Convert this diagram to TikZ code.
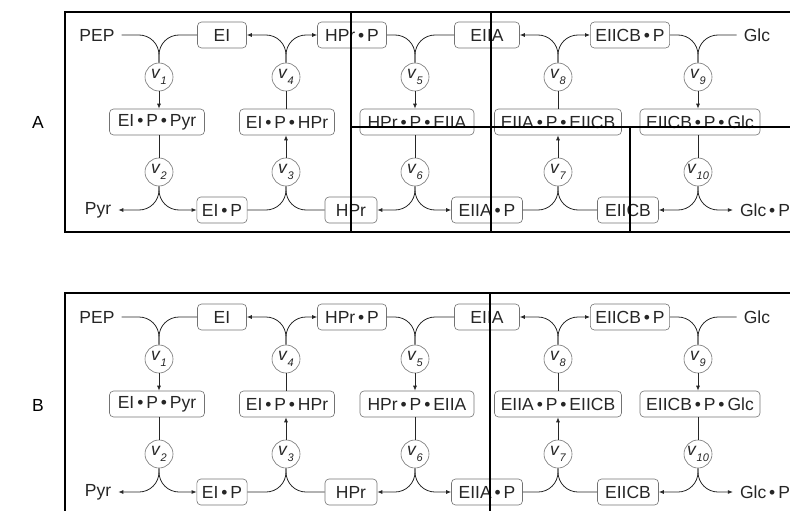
\documentclass[tikz,border=0pt]{standalone}
\usepackage{fontspec}
\setmainfont{Liberation Sans}
\usetikzlibrary{arrows.meta}

\newcommand{\bdot}{\,\textbullet\,}
\newcommand{\vrate}[1]{\textit{v}\raisebox{-.6ex}{\fontsize{11}{11}\selectfont\itshape #1}}

\tikzset{
  species/.style = {draw = black!55, rounded corners = 4pt, inner xsep = 5pt,
    minimum height = 26pt, line width = .6pt, text = black!85},
  metab/.style = {inner xsep = 7pt, inner ysep = 2pt, text = black!85},
  rate/.style = {draw = black!55, circle, minimum size = 28pt, inner sep = 0pt,
    line width = .6pt, text = black!85},
  flux/.style = {line width = .8pt, black!85, rounded corners = 20pt},
  frame/.style = {line width = 2.4pt, line cap = rect, line join = miter}
}

\begin{document}
\begin{tikzpicture}[x = 1pt, y = 1pt, font = \fontsize{17.5}{20}\selectfont,
  >={Latex[length = 5pt, width = 4pt]}]
  \useasboundingbox (0, 0) rectangle (790, -511);

  \node (labA) at (38, -122) {A};
  \node (labB) at (38, -405) {B};

  \foreach \p/\dy in {A/0, B/-282} {
    \begin{scope}[yshift = \dy]
      % top row
      \node[metab] (\p-pep) at (97, -35) {PEP};
      \node[species, minimum width = 49] (\p-ei) at (222, -35) {EI};
      \node[species, minimum width = 69] (\p-hprp) at (352, -35) {HPr\bdot P};
      \node[species, minimum width = 65] (\p-eiia) at (487, -35) {EIIA};
      \node[species, minimum width = 77] (\p-eiicbp) at (630, -35) {EIICB\bdot P};
      \node[metab] (\p-glc) at (757, -35) {Glc};
      % middle row
      \node[species, minimum width = 95] (\p-eipyr) at (157, -122) {EI\bdot P\bdot Pyr};
      \node[species, minimum width = 95] (\p-eihpr) at (287, -122) {EI\bdot P\bdot HPr};
      \node[species, minimum width = 114] (\p-hpreiia) at (417, -122) {HPr\bdot P\bdot EIIA};
      \node[species, minimum width = 127] (\p-eiiaeiicb) at (558, -122) {EIIA\bdot P\bdot EIICB};
      \node[species, minimum width = 120] (\p-eiicbglc) at (700, -122) {EIICB\bdot P\bdot Glc};
      % bottom row
      \node[metab] (\p-pyr) at (98, -210) {Pyr};
      \node[species, minimum width = 49] (\p-eip) at (222, -210) {EI\bdot P};
      \node[species, minimum width = 52] (\p-hpr) at (351, -210) {HPr};
      \node[species, minimum width = 71] (\p-eiiap) at (487, -210) {EIIA\bdot P};
      \node[species, minimum width = 61] (\p-eiicb) at (628, -210) {EIICB};
      \node[metab] (\p-glcp) at (765, -210) {Glc\bdot P};
      % rates
      \foreach \i/\x/\y in {1/159/-77, 2/159/-172, 3/286/-172, 4/286/-77,
        5/415/-77, 6/415/-172, 7/558/-172, 8/558/-77, 9/698/-77, 10/698/-172}
        \node[rate] (\p-v\i) at (\x, \y) {\vrate{\i}};

      % v1, v2
      \draw[flux] (\p-pep.east) -| (\p-v1.north);
      \draw[flux] (\p-ei.west) -| (\p-v1.north);
      \draw[flux, ->] (\p-v1.south) -- (\p-v1 |- \p-eipyr.north);
      \draw[flux] (\p-v2 |- \p-eipyr.south) -- (\p-v2.north);
      \draw[flux, ->] (\p-v2.south) |- (\p-pyr.east);
      \draw[flux, ->] (\p-v2.south) |- (\p-eip.west);
      % v3, v4
      \draw[flux] (\p-eip.east) -| (\p-v3.south);
      \draw[flux] (\p-hpr.west) -| (\p-v3.south);
      \draw[flux, ->] (\p-v3.north) -- (\p-v3 |- \p-eihpr.south);
      \draw[flux] (\p-v4 |- \p-eihpr.north) -- (\p-v4.south);
      \draw[flux, ->] (\p-v4.north) |- (\p-ei.east);
      \draw[flux, ->] (\p-v4.north) |- (\p-hprp.west);
      % v5, v6
      \draw[flux] (\p-hprp.east) -| (\p-v5.north);
      \draw[flux] (\p-eiia.west) -| (\p-v5.north);
      \draw[flux, ->] (\p-v5.south) -- (\p-v5 |- \p-hpreiia.north);
      \draw[flux] (\p-v6 |- \p-hpreiia.south) -- (\p-v6.north);
      \draw[flux, ->] (\p-v6.south) |- (\p-hpr.east);
      \draw[flux, ->] (\p-v6.south) |- (\p-eiiap.west);
      % v7, v8
      \draw[flux] (\p-eiiap.east) -| (\p-v7.south);
      \draw[flux] (\p-eiicb.west) -| (\p-v7.south);
      \draw[flux, ->] (\p-v7.north) -- (\p-v7 |- \p-eiiaeiicb.south);
      \draw[flux] (\p-v8 |- \p-eiiaeiicb.north) -- (\p-v8.south);
      \draw[flux, ->] (\p-v8.north) |- (\p-eiia.east);
      \draw[flux, ->] (\p-v8.north) |- (\p-eiicbp.west);
      % v9, v10
      \draw[flux] (\p-eiicbp.east) -| (\p-v9.north);
      \draw[flux] (\p-glc.west) -| (\p-v9.north);
      \draw[flux, ->] (\p-v9.south) -- (\p-v9 |- \p-eiicbglc.north);
      \draw[flux] (\p-v10 |- \p-eiicbglc.south) -- (\p-v10.north);
      \draw[flux, ->] (\p-v10.south) |- (\p-eiicb.east);
      \draw[flux, ->] (\p-v10.south) |- (\p-glcp.west);
    \end{scope}
  }

  % cuts of panel A
  \draw[frame] (790, -12) -- (65, -12) -- (65, -232) -- (790, -232);
  \draw[frame] (351, -12) -- (351, -232);
  \draw[frame] (491, -12) -- (491, -232);
  \draw[frame] (351, -127) -- (790, -127);
  \draw[frame] (630, -127) -- (630, -232);

  % cuts of panel B
  \draw[frame] (790, -293) -- (65, -293) -- (65, -511);
  \draw[frame] (490, -293) -- (490, -511);
\end{tikzpicture}
\end{document}
